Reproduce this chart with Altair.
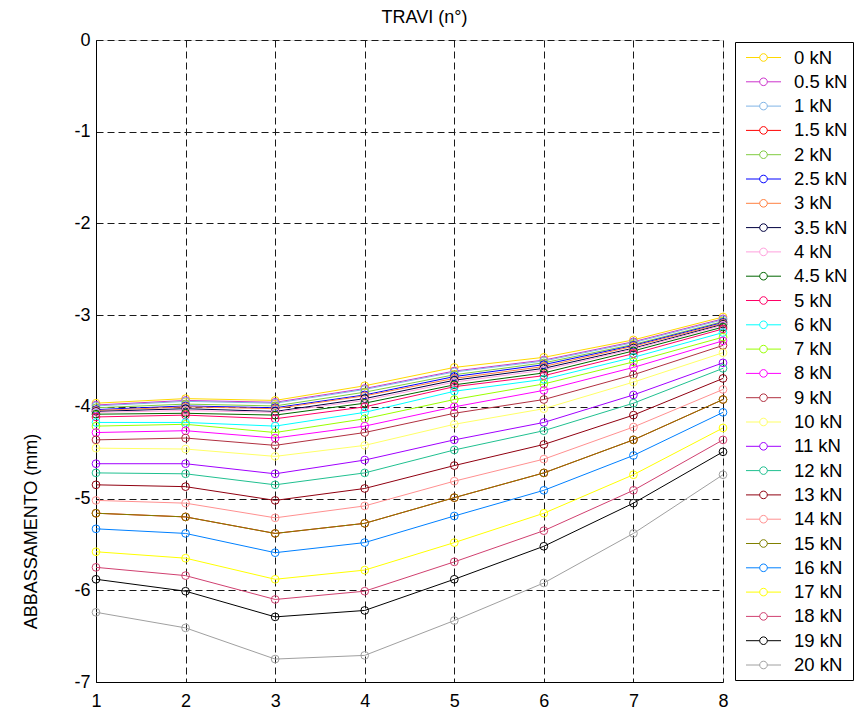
import altair as alt
import pandas as pd

travi = [1, 2, 3, 4, 5, 6, 7, 8]
y_ticks = [0, -1, -2, -3, -4, -5, -6, -7]

loads = ["0 kN", "0.5 kN", "1 kN", "1.5 kN", "2 kN", "2.5 kN", "3 kN", "3.5 kN",
         "4 kN", "4.5 kN", "5 kN", "6 kN", "7 kN", "8 kN", "9 kN", "10 kN",
         "11 kN", "12 kN", "13 kN", "14 kN", "15 kN", "16 kN", "17 kN", "18 kN",
         "19 kN", "20 kN"]

colors = ["#FFD800", "#CC33CC", "#80B4E6", "#FF0000", "#80CC40", "#0000FF",
          "#FF8040", "#000040", "#FFA0DD", "#006600", "#FF0066", "#00FFFF",
          "#99FF00", "#FF00FF", "#B03040", "#FFFF66", "#A000FF", "#20C090",
          "#900010", "#FF9090", "#808000", "#0080FF", "#FFFF00", "#D04070",
          "#000000", "#A0A0A0"]

s_0 = [-3.96, -3.91, -3.93, -3.77, -3.57, -3.46, -3.27, -3.02]
s_05 = [-3.98, -3.93, -3.95, -3.80, -3.61, -3.49, -3.29, -3.04]
s_1 = [-3.99, -3.94, -3.96, -3.81, -3.62, -3.50, -3.30, -3.05]
s_15 = [-4.00, -3.95, -3.97, -3.83, -3.63, -3.51, -3.31, -3.06]
s_2 = [-4.01, -3.97, -3.99, -3.84, -3.65, -3.52, -3.32, -3.07]
s_25 = [-4.03, -3.99, -4.01, -3.87, -3.67, -3.54, -3.33, -3.08]
s_3 = [-4.04, -4.00, -4.02, -3.88, -3.69, -3.56, -3.34, -3.09]
s_35 = [-4.05, -4.02, -4.05, -3.91, -3.71, -3.58, -3.36, -3.10]
s_4 = [-4.06, -4.04, -4.06, -3.93, -3.73, -3.60, -3.37, -3.11]
s_45 = [-4.08, -4.07, -4.09, -3.96, -3.76, -3.63, -3.39, -3.13]
s_5 = [-4.11, -4.09, -4.13, -4.00, -3.78, -3.66, -3.42, -3.15]
s_6 = [-4.17, -4.17, -4.21, -4.06, -3.83, -3.70, -3.46, -3.19]
s_7 = [-4.21, -4.19, -4.28, -4.13, -3.92, -3.75, -3.51, -3.24]
s_8 = [-4.28, -4.26, -4.34, -4.21, -4.00, -3.82, -3.57, -3.28]
s_9 = [-4.36, -4.34, -4.42, -4.28, -4.07, -3.92, -3.65, -3.33]
s_10 = [-4.45, -4.46, -4.54, -4.42, -4.19, -4.02, -3.73, -3.41]
s_11 = [-4.62, -4.62, -4.73, -4.58, -4.36, -4.17, -3.87, -3.52]
s_12 = [-4.72, -4.73, -4.85, -4.72, -4.47, -4.26, -3.96, -3.58]
s_13 = [-4.85, -4.87, -5.02, -4.89, -4.64, -4.41, -4.09, -3.69]
s_14 = [-5.02, -5.05, -5.21, -5.08, -4.81, -4.57, -4.22, -3.81]
s_15 = [-5.16, -5.20, -5.38, -5.27, -4.99, -4.72, -4.36, -3.92]
s_16 = [-5.33, -5.38, -5.59, -5.48, -5.19, -4.91, -4.53, -4.06]
s_17 = [-5.58, -5.65, -5.88, -5.78, -5.48, -5.16, -4.74, -4.23]
s_18 = [-5.75, -5.84, -6.10, -6.01, -5.69, -5.35, -4.91, -4.36]
s_19 = [-5.88, -6.01, -6.29, -6.22, -5.88, -5.52, -5.05, -4.49]
s_20 = [-6.24, -6.41, -6.75, -6.71, -6.33, -5.92, -5.38, -4.74]

series = [s_0, s_05, s_1, s_15, s_2, s_25, s_3, s_35, s_4, s_45, s_5, s_6, s_7,
          s_8, s_9, s_10, s_11, s_12, s_13, s_14, s_15, s_16, s_17, s_18, s_19, s_20]

rows = []
for i, (name, vals) in enumerate(zip(loads, series)):
    for x, y in zip(travi, vals):
        rows.append({"load": name, "order": i, "trave": x, "abb": y})
df = pd.DataFrame(rows)

FONT = "Liberation Sans"
GRID = dict(grid=True, gridColor="#1a1a1a", gridDash=[7, 4], gridWidth=1, gridOpacity=1)

# legend symbol: a short line with an open circle in the middle
sym = ("M-1.75,0L-0.38,0M0.38,0L1.75,0"
       "M-0.38,0A0.38,0.38,0,1,1,0.38,0A0.38,0.38,0,1,1,-0.38,0Z")

cscale = alt.Scale(domain=loads, range=colors)

color = alt.Color(
    "load:N",
    sort=loads,
    scale=cscale,
    legend=alt.Legend(
        title=None,
        orient="none",
        legendX=639,
        legendY=2,
        padding=5,
        symbolType=sym,
        symbolSize=400,
        symbolOffset=13,
        symbolStrokeWidth=1,
        symbolFillColor="transparent",
        labelOffset=20,
        labelFont=FONT,
        labelFontSize=18.5,
        labelColor="black",
        rowPadding=4.3,
        strokeColor="black",
        fillColor="white",
        labelLimit=200,
    ),
)

x_enc = alt.X(
    "trave:Q",
    scale=alt.Scale(domain=[1, 8], nice=False, zero=False),
    axis=alt.Axis(
        title=None,
        values=travi,
        labelExpr="'' + datum.value",
        tickSize=0,
        labelPadding=10,
        labelFont=FONT,
        labelFontSize=18,
        labelColor="black",
        domainColor="black",
        labelFlush=False,
        **GRID,
    ),
)

y_enc = alt.Y(
    "abb:Q",
    scale=alt.Scale(domain=[-7, 0], nice=False, zero=False),
    axis=alt.Axis(
        title="ABBASSAMENTO (mm)",
        values=y_ticks,
        labelExpr="'' + datum.value",
        tickSize=0,
        labelPadding=6,
        labelFont=FONT,
        labelFontSize=18,
        labelColor="black",
        domainColor="black",
        labelFlush=False,
        titleFont="Liberation Sans Narrow, Liberation Sans",
        titleFontSize=18,
        titleFontWeight="normal",
        titleColor="black",
        titleAngle=270,
        titleX=-56,
        titleY=491,
        titleAlign="center",
        titleBaseline="bottom",
        **GRID,
    ),
)

base = alt.Chart(df)

lines = base.mark_line(strokeWidth=1, clip=True).encode(
    x=x_enc, y=y_enc, color=color, detail="load:N", order="trave:Q"
)
points = base.mark_point(filled=False, size=60, strokeWidth=1, opacity=1).encode(
    x=x_enc, y=y_enc, color=color
)

chart = (
    alt.layer(lines, points)
    .properties(
        width=627,
        height=642,
        title=alt.TitleParams(
            "TRAVI (n°)",
            font=FONT,
            fontSize=18,
            fontWeight="normal",
            color="black",
            anchor="middle",
            frame="group",
            baseline="bottom",
            offset=-14,
            dx=15,
        ),
        autosize=alt.AutoSizeParams(type="none"),
        padding={"left": 96, "top": 40, "right": 145, "bottom": 29},
    )
    .configure_view(stroke="black", strokeWidth=1)
    .configure(background="white")
)

chart.save("out.html", embed_options={"renderer": "svg", "actions": False})
